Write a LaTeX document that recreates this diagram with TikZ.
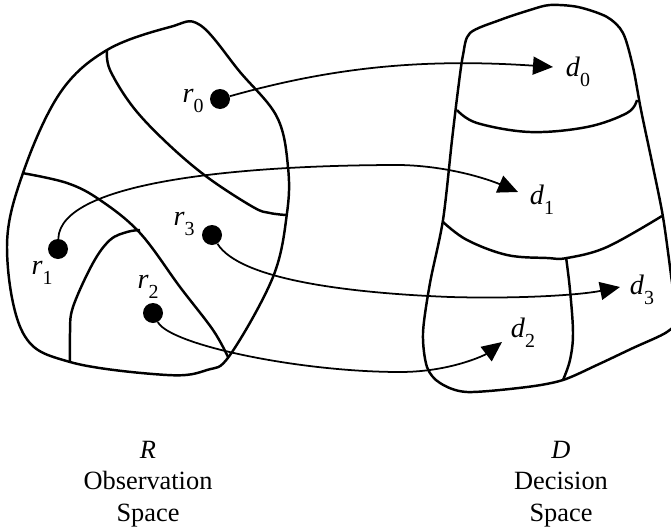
\documentclass[tikz,border=0pt]{standalone}
\usepackage{fontspec}
\setmainfont{Liberation Serif}
\usetikzlibrary{arrows.meta}

\newcommand{\lab}[2]{\textit{#1}\raisebox{-0.35em}{\fontsize{17}{17}\selectfont #2}}

\tikzset{
  region/.style = {line width=2.1pt},
  point/.style = {circle, fill, inner sep=0pt, minimum size=0.6cm},
  map/.style = {line width=1.5pt, -{Triangle[length=0.6cm, width=0.54cm]}},
  lbl/.style = {font=\fontsize{24}{24}\selectfont, inner sep=0pt}
}

\begin{document}
\begin{tikzpicture}[x=0.03cm, y=-0.03cm]
  \useasboundingbox (0,0) rectangle (671,531);

  % L'espace d'observation
  \draw[region] plot[smooth cycle, tension=0.6] coordinates {(200,25) (240,72) (277,117) (288,167)
    (287,213) (273,277) (230,355) (207,370) (167,375) (70,362) (23,333) (7,247) (23,173)
    (60,93) (107,50) (170,27)};
  \draw[region] plot[smooth, tension=0.6] coordinates {(107,50) (110,70) (133,107) (167,143)
    (207,177) (253,207) (270,213) (286,215)};
  \draw[region] plot[smooth, tension=0.6] coordinates {(22,173) (67,183) (100,200) (140,233)
    (180,287) (213,330) (228,357)};
  \draw[region] plot[smooth, tension=0.6] coordinates {(140,230) (127,232) (110,240) (93,263)
    (73,307) (70,333) (70,362)};

  % L'espace de decision
  \draw[region] plot[smooth cycle, tension=0.5] coordinates {(470,33) (500,20) (530,10) (550,5)
    (578,7) (607,17) (623,33) (633,67) (641,110) (653,167) (663,217) (671,275) (676,318)
    (667,332) (633,348) (597,365) (563,380) (527,387) (467,392) (440,383) (427,367)
    (423,333) (430,283) (443,220) (452,140) (458,90) (463,55)};
  \draw[region] plot[smooth, tension=0.6] coordinates {(457,110) (477,123) (530,132)
    (587,127) (627,113) (637,100)};
  \draw[region] plot[smooth, tension=0.6] coordinates {(443,222) (467,240) (507,255)
    (547,258) (567,258) (607,247) (662,216)};
  \draw[region] plot[smooth, tension=0.6] coordinates {(566,257) (570,290) (573,333)
    (570,360) (563,380)};

  % Les points
  \node[point] (r0) at (220,99) {};
  \node[point] (r1) at (58,249) {};
  \node[point] (r2) at (153,313) {};
  \node[point] (r3) at (212,235) {};
  \node[lbl] at (193,101) {\lab{r}{0}};
  \node[lbl] at (42,273) {\lab{r}{1}};
  \node[lbl] at (148,287) {\lab{r}{2}};
  \node[lbl] at (184,224) {\lab{r}{3}};

  % Les decisions
  \coordinate (t0) at (553,67);
  \coordinate (t1) at (518,192);
  \coordinate (t2) at (502,342);
  \coordinate (t3) at (620,287);
  \node[lbl] (d0) at (578,72) {\lab{d}{0}};
  \node[lbl] (d1) at (542,200) {\lab{d}{1}};
  \node[lbl] (d2) at (523,333) {\lab{d}{2}};
  \node[lbl] (d3) at (642,290) {\lab{d}{3}};

  % Les fleches
  \draw[map] (r0) .. controls (330,68) and (420,58) .. (t0);
  \draw[map] (r1) .. controls (60,180) and (250,165) .. (400,165)
    .. controls (450,166) and (490,180) .. (t1);
  \draw[map] (r3) .. controls (240,280) and (350,293) .. (450,297)
    .. controls (520,299) and (580,295) .. (t3);
  \draw[map] (r2) .. controls (170,345) and (300,372) .. (400,372)
    .. controls (450,372) and (485,355) .. (t2);

  % Les titres
  \node[lbl, align=center, font=\fontsize{22.5}{27}\selectfont] (R) at (148,484)
    {\textit{R}\\Observation\\Space};
  \node[lbl, align=center, font=\fontsize{22.5}{27}\selectfont] (D) at (561,484)
    {\textit{D}\\Decision\\Space};
\end{tikzpicture}
\end{document}
